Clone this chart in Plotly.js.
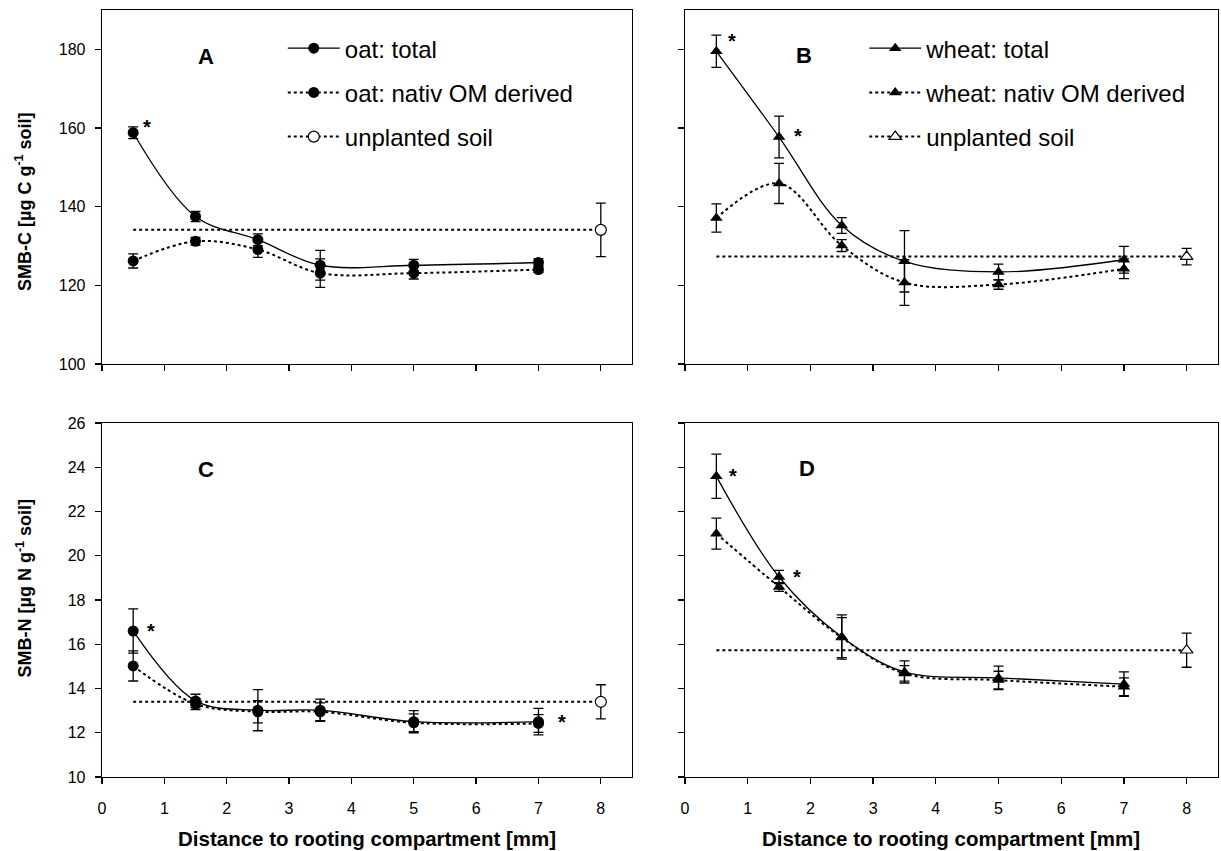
<!DOCTYPE html>
<html>
<head>
<meta charset="utf-8">
<script src="https://cdn.plot.ly/plotly-3.0.1.min.js"></script>
<style>html,body{margin:0;padding:0;background:#fff;}#chart{width:1221px;height:851px;}</style>
</head>
<body>
<div id="chart"></div>
<script>
// ---- data ----
const distance = [0.5, 1.5, 2.5, 3.5, 5, 7];
const unplantedX = 8;
const lineStartX = 0.5;

const oatC_total = [158.8, 137.5, 131.6, 125.1, 125.1, 125.8];
const oatC_total_err = [1.5, 1.3, 1.5, 3.8, 1.5, 1.0];
const oatC_native = [126.2, 131.2, 129.1, 123.1, 123.1, 124.0];
const oatC_native_err = [1.8, 1.0, 2.0, 3.6, 1.5, 0.8];
const oatC_unplanted = 134.1;
const oatC_unplanted_err = 6.8;

const wheatC_total = [179.5, 157.7, 135.2, 126.1, 123.4, 126.5];
const wheatC_total_err = [4.1, 5.3, 2.0, 7.8, 2.0, 3.4];
const wheatC_native = [137.1, 145.9, 130.1, 120.7, 120.2, 124.2];
const wheatC_native_err = [3.6, 5.1, 1.5, 5.8, 1.2, 2.5];
const wheatC_unplanted = 127.3;
const wheatC_unplanted_err = 2.1;

const oatN_total = [16.6, 13.44, 13.02, 13.02, 12.5, 12.5];
const oatN_total_err = [1.0, 0.3, 0.93, 0.5, 0.5, 0.6];
const oatN_native = [15.02, 13.3, 12.95, 12.95, 12.45, 12.42];
const oatN_native_err = [0.68, 0.25, 0.5, 0.4, 0.4, 0.4];
const oatN_unplanted = 13.4;
const oatN_unplanted_err = 0.77;

const wheatN_total = [23.59, 19.04, 16.33, 14.75, 14.48, 14.2];
const wheatN_total_err = [1.0, 0.3, 1.0, 0.5, 0.53, 0.55];
const wheatN_native = [21.0, 18.59, 16.3, 14.68, 14.38, 14.08];
const wheatN_native_err = [0.7, 0.2, 0.9, 0.35, 0.4, 0.4];
const wheatN_unplanted = 15.73;
const wheatN_unplanted_err = 0.77;

const legendNamesOat = ["oat: total", "oat: nativ OM derived", "unplanted soil"];
const legendNamesWheat = ["wheat: total", "wheat: nativ OM derived", "unplanted soil"];
const panelLetters = ["A", "B", "C", "D"];
const xTitle = "Distance to rooting compartment [mm]";
const yTitleC = "SMB-C [µg C g<sup>-1</sup> soil]";
const yTitleN = "SMB-N [µg N g<sup>-1</sup> soil]";
// asterisk positions [x, y] per panel
const starsA = [[0.72, 160.2]];
const starsB = [[0.75, 182.0], [1.81, 157.9]];
const starsC = [[0.78, 16.6], [7.37, 12.5]];
const starsD = [[0.77, 23.6], [1.79, 19.03]];
const letterPos = [[1.66, 178.3], [1.9, 178.5], [1.66, 23.88], [1.94, 23.95]];

// ---- build traces ----
function errObj(arr) {
  return {type: 'data', array: arr, visible: true, color: '#000', thickness: 1.3, width: 5};
}
function panel(xa, ya, total, totalErr, native, nativeErr, unpl, unplErr, names, sym, legendId, showLeg) {
  const t = [];
  t.push({x: distance, y: total, error_y: errObj(totalErr), xaxis: xa, yaxis: ya,
    mode: 'lines+markers', name: names[0], legend: legendId, legendgroup: legendId + 'a', showlegend: showLeg,
    line: {color: '#000', width: 1.3, shape: 'spline', smoothing: 1},
    marker: {symbol: sym, size: 11, color: '#000'}});
  t.push({x: distance, y: native, error_y: errObj(nativeErr), xaxis: xa, yaxis: ya,
    mode: 'lines+markers', name: names[1], legend: legendId, legendgroup: legendId + 'b', showlegend: showLeg,
    line: {color: '#000', width: 2, dash: 'dot', shape: 'spline', smoothing: 1},
    marker: {symbol: sym, size: 11, color: '#000'}});
  t.push({x: [lineStartX, unplantedX], y: [unpl, unpl], xaxis: xa, yaxis: ya,
    mode: 'lines', showlegend: false, hoverinfo: 'skip',
    line: {color: '#000', width: 2, dash: 'dot'}});
  t.push({x: [unplantedX], y: [unpl], error_y: errObj([unplErr]), xaxis: xa, yaxis: ya,
    mode: 'lines+markers', name: names[2], legend: legendId, legendgroup: legendId + 'c', showlegend: showLeg,
    line: {color: '#000', width: 2, dash: 'dot'},
    marker: {symbol: sym, size: 11, color: '#fff', line: {color: '#000', width: 1.2}}});
  return t;
}

const data = [].concat(
  panel('x', 'y', oatC_total, oatC_total_err, oatC_native, oatC_native_err, oatC_unplanted, oatC_unplanted_err, legendNamesOat, 'circle', 'legend', true),
  panel('x2', 'y2', wheatC_total, wheatC_total_err, wheatC_native, wheatC_native_err, wheatC_unplanted, wheatC_unplanted_err, legendNamesWheat, 'triangle-up', 'legend2', true),
  panel('x3', 'y3', oatN_total, oatN_total_err, oatN_native, oatN_native_err, oatN_unplanted, oatN_unplanted_err, legendNamesOat, 'circle', 'legend', false),
  panel('x4', 'y4', wheatN_total, wheatN_total_err, wheatN_native, wheatN_native_err, wheatN_unplanted, wheatN_unplanted_err, legendNamesWheat, 'triangle-up', 'legend2', false)
);

// ---- layout ----
const FAM = 'Liberation Sans, Arial, sans-serif';
const tickFont = {family: FAM, size: 16, color: '#000'};
function xaxis(domain, anchor, labels) {
  return {domain: domain, anchor: anchor, range: [0, 8.5], tickvals: [0,1,2,3,4,5,6,7,8],
    showticklabels: labels, ticks: 'outside', ticklen: 6, tickwidth: 1.3, tickcolor: '#000',
    showline: true, linecolor: '#000', linewidth: 1.3, mirror: true, showgrid: false, zeroline: false,
    tickfont: tickFont, ticklabelstandoff: 10};
}
function yaxis(domain, anchor, range, vals, labels) {
  return {domain: domain, anchor: anchor, range: range, tickvals: vals,
    showticklabels: labels, ticks: 'outside', ticklen: 6, tickwidth: 1.3, tickcolor: '#000',
    showline: true, linecolor: '#000', linewidth: 1.3, mirror: true, showgrid: false, zeroline: false,
    tickfont: tickFont, ticklabelstandoff: 6};
}
const xDomL = [0, 0.4749], xDomR = [0.5224, 1];
const yDomT = [0.5385, 1], yDomB = [0, 0.4615];

const annotations = [];
const axPairs = [['x','y'], ['x2','y2'], ['x3','y3'], ['x4','y4']];
panelLetters.forEach((L, i) => {
  annotations.push({xref: axPairs[i][0], yref: axPairs[i][1], x: letterPos[i][0], y: letterPos[i][1],
    xanchor: 'center', yanchor: 'middle',
    text: '<b>' + L + '</b>', showarrow: false, font: {family: FAM, size: 22, color: '#000'}});
});
[starsA, starsB, starsC, starsD].forEach((arr, i) => {
  arr.forEach(p => annotations.push({xref: axPairs[i][0], yref: axPairs[i][1], x: p[0], y: p[1],
    xanchor: 'center', yanchor: 'middle',
    text: '<b>*</b>', showarrow: false, font: {family: FAM, size: 20, color: '#000'}}));
});
// axis titles
const titleFontX = {family: FAM, size: 20.5, color: '#000'};
const titleFontY = {family: FAM, size: 18, color: '#000'};
const centered = {showarrow: false, xanchor: 'center', yanchor: 'middle', xref: 'paper', yref: 'paper'};
annotations.push(Object.assign({x: 0.2375, y: -0.0808, text: '<b>' + xTitle + '</b>', font: titleFontX}, centered));
annotations.push(Object.assign({x: 0.7612, y: -0.0808, text: '<b>' + xTitle + '</b>', font: titleFontX}, centered));
annotations.push(Object.assign({x: -0.0699, y: 0.751, text: '<b>' + yTitleC + '</b>', textangle: -90, font: titleFontY}, centered));
annotations.push(Object.assign({x: -0.0699, y: 0.2471, text: '<b>' + yTitleN + '</b>', textangle: -90, font: titleFontY}, centered));

const legFont = {family: FAM, size: 24, color: '#000'};
const layout = {
  width: 1221, height: 851,
  margin: {l: 102, r: 3, t: 10, b: 74},
  paper_bgcolor: '#fff', plot_bgcolor: '#fff',
  font: tickFont,
  xaxis: xaxis(xDomL, 'y', false),
  yaxis: yaxis(yDomT, 'x', [100, 190], [100,120,140,160,180], true),
  xaxis2: xaxis(xDomR, 'y2', false),
  yaxis2: yaxis(yDomT, 'x2', [100, 190], [100,120,140,160,180], false),
  xaxis3: xaxis(xDomL, 'y3', true),
  yaxis3: yaxis(yDomB, 'x3', [10, 26], [10,12,14,16,18,20,22,24,26], true),
  xaxis4: xaxis(xDomR, 'y4', true),
  yaxis4: yaxis(yDomB, 'x4', [10, 26], [10,12,14,16,18,20,22,24,26], false),
  legend: {x: 0.162, y: 0.979, xanchor: 'left', yanchor: 'top', bgcolor: 'rgba(0,0,0,0)', font: legFont, tracegroupgap: 10, itemwidth: 52},
  legend2: {x: 0.683, y: 0.979, xanchor: 'left', yanchor: 'top', bgcolor: 'rgba(0,0,0,0)', font: legFont, tracegroupgap: 10, itemwidth: 52},
  annotations: annotations,
  showlegend: true
};

Plotly.newPlot('chart', data, layout, {staticPlot: true, displayModeBar: false});
</script>
</body>
</html>
